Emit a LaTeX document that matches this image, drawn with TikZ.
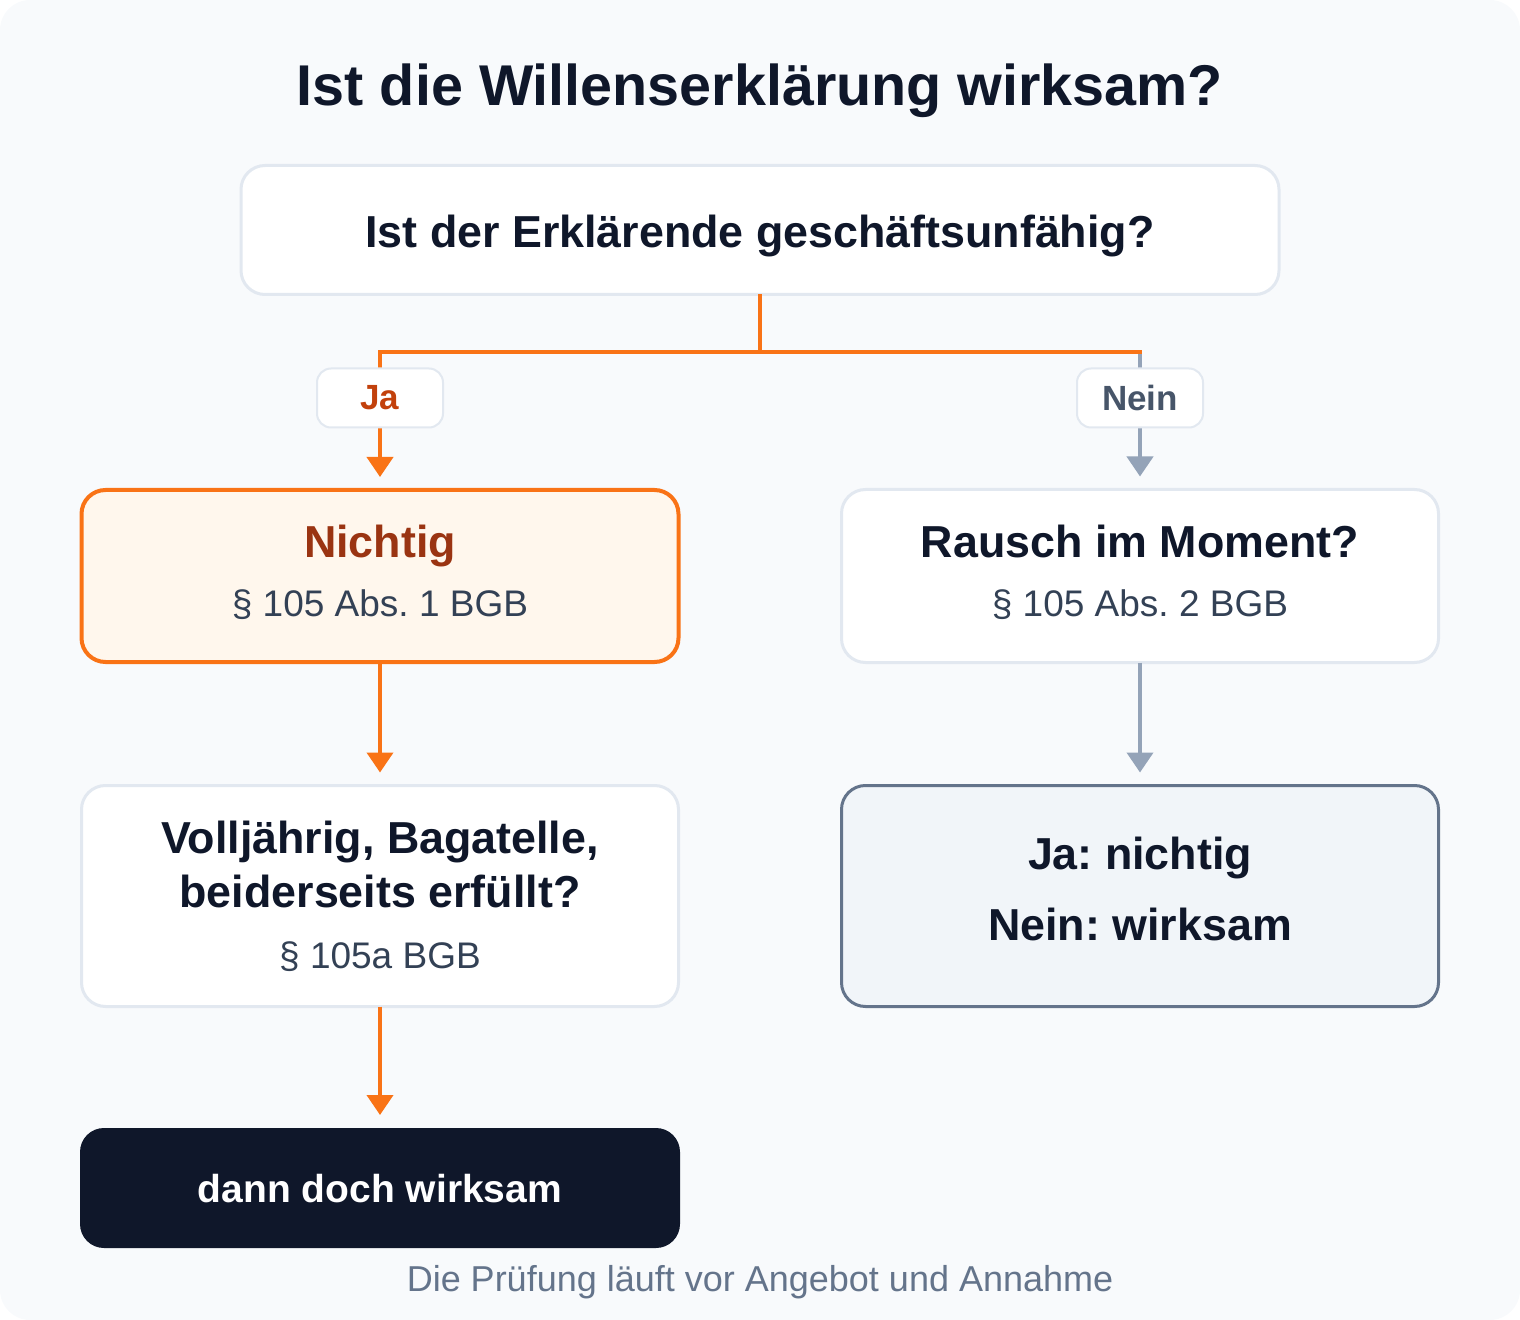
\documentclass[tikz,border=0pt]{standalone}
\usepackage{fontspec}
\setmainfont{Liberation Sans}
\frenchspacing
\usetikzlibrary{arrows.meta}
\definecolor{bgcol}{HTML}{F8FAFC}
\definecolor{ink}{HTML}{0F172A}
\definecolor{rim}{HTML}{E2E8F0}
\definecolor{ja}{HTML}{F97316}
\definecolor{jatext}{HTML}{C2410C}
\definecolor{nein}{HTML}{94A3B8}
\definecolor{neintext}{HTML}{475569}
\definecolor{nichtigfill}{HTML}{FFF7ED}
\definecolor{nichtigtext}{HTML}{9A3412}
\definecolor{para}{HTML}{334155}
\definecolor{endfill}{HTML}{F1F5F9}
\definecolor{endrim}{HTML}{64748B}
\tikzset{every node/.style={inner sep=0pt, outer sep=0pt},
  box/.style={draw=rim, line width=1.5pt, fill=white, rounded corners=12pt, minimum width=298.5pt, minimum height=86.5pt},
  pill/.style={draw=rim, line width=1pt, fill=white, rounded corners=7pt, minimum width=63pt, minimum height=29.5pt, font=\fontsize{17.5}{21}\selectfont\bfseries},
  title/.style={anchor=base, text=ink, font=\fontsize{28.75}{34}\selectfont\bfseries},
  head/.style={anchor=base, text=ink, font=\fontsize{22.4}{27}\selectfont\bfseries},
  para/.style={anchor=base, text=para, font=\fontsize{18.5}{22}\selectfont},
  jaline/.style={draw=ja, line width=2pt},
  neinline/.style={draw=nein, line width=2pt},
  tip/.style={-{Triangle[width=13pt,length=10pt]}, shorten >=6.5pt}}

\begin{document}
\begin{tikzpicture}[x=0.5pt,y=-0.5pt]
  \fill[bgcol, rounded corners=15pt] (0,0) rectangle (1520,1320);
  \node[title] (titel) at (760,106) {Ist die Willenserklärung wirksam?};

  \node[box, minimum width=519pt, minimum height=64.5pt] (frage) at (760,230) {};
  \node[head] (frageT) at (760,248) {Ist der Erklärende geschäftsunfähig?};

  \node[box, draw=ja, line width=2pt, fill=nichtigfill, minimum height=86pt] (nichtig) at (380,576) {};
  \node[head, text=nichtigtext] (nichtigT) at (380,558) {Nichtig};
  \node[para] (nichtigP) at (380,617) {§ 105 Abs. 1 BGB};

  \node[box] (rausch) at (1140,576) {};
  \node[head] (rauschT) at (1140,558) {Rausch im Moment?};
  \node[para] (rauschP) at (1140,617) {§ 105 Abs. 2 BGB};

  \node[box, minimum height=110.5pt] (voll) at (380,896) {};
  \node[head] (vollT) at (380,853) {Volljährig, Bagatelle,};
  \node[head] (vollU) at (380,907) {beiderseits erfüllt?};
  \node[para] (vollP) at (380,968) {§ 105a BGB};

  \node[box, draw=endrim, fill=endfill, minimum height=110.5pt] (ende) at (1140,896) {};
  \node[head] (endeJa) at (1140,869) {Ja: nichtig};
  \node[head] (endeNein) at (1140,940) {Nein: wirksam};

  \node[box, draw=none, fill=ink, minimum width=300pt, minimum height=60pt] (doch) at (380,1188) {};
  \node[head, text=white, font=\fontsize{19.5}{23}\selectfont\bfseries] (dochT) at (380,1202) {dann doch wirksam};

  \node[anchor=base, text=endrim, font=\fontsize{18}{22}\selectfont] (fuss) at (760,1291) {Die Prüfung läuft vor Angebot und Annahme};

  \coordinate (gabel) at (760,352);
  \draw[neinline, tip] (gabel -| rausch.north) -- (rausch.north);
  \draw[jaline, tip] (frage.south) -- (gabel) -| (nichtig.north);
  \draw[jaline] (gabel) -- ([xshift=1pt]gabel -| rausch.north);
  \draw[jaline, tip] (nichtig.south) -- (voll.north);
  \draw[neinline, tip] (rausch.south) -- (ende.north);
  \draw[jaline, tip] (voll.south) -- (doch.north);

  \node[pill, text=jatext] (jaL) at (380,398) {Ja};
  \node[pill, text=neintext] (neinL) at (1140,398) {Nein};
\end{tikzpicture}
\end{document}
